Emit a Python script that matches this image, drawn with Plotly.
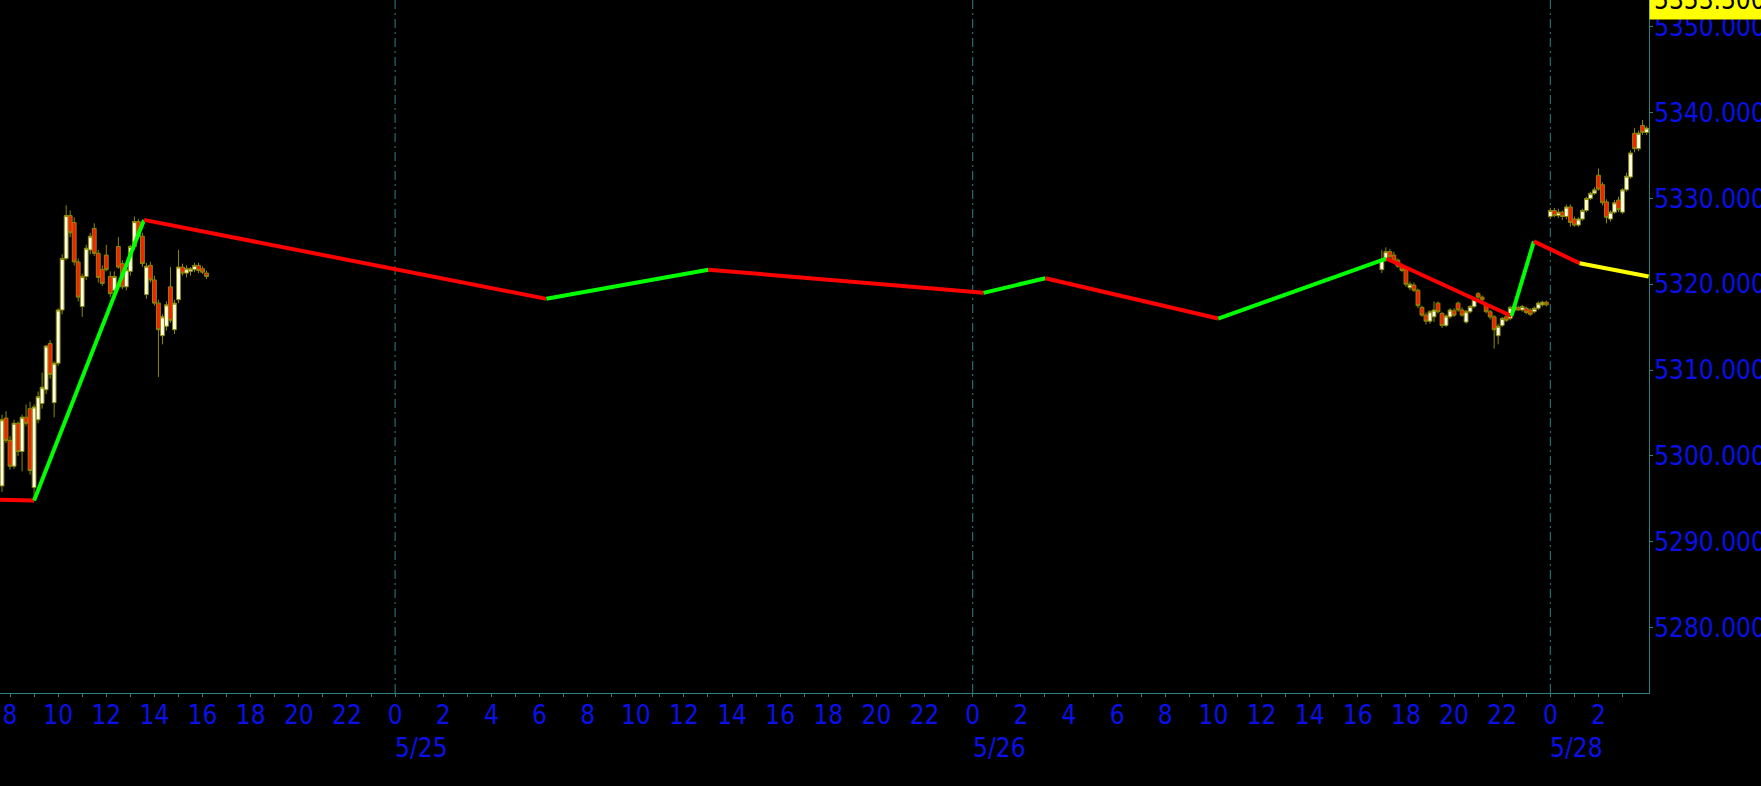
import pandas as pd
import plotly.graph_objects as go

# ---------------- data ----------------
# zigzag indicator vertices
zz_time = ["2024-05-24 07:00", "2024-05-24 09:00", "2024-05-24 13:34", "2024-05-25 06:17",
           "2024-05-25 13:01", "2024-05-26 00:27", "2024-05-26 03:01", "2024-05-26 10:12",
           "2024-05-26 17:11", "2024-05-26 22:23", "2024-05-26 23:19", "2024-05-28 01:13",
           "2024-05-28 04:05"]
zz_price = [5294.9, 5294.8, 5327.5, 5318.3, 5321.7, 5319.0, 5320.7, 5316.0,
            5323.0, 5316.3, 5325.0, 5322.45, 5320.9]

# candle cluster 1 (5/24, 10-minute bars from 07:40)
c1_start = "2024-05-24 07:40"
c1_open  = [5296.5, 5304.4, 5301.8, 5298.8, 5303.8, 5300.5, 5304.5, 5305.5, 5296.3, 5304.2,
            5306.1, 5307.7, 5313.1, 5306.2, 5310.8, 5317.0, 5323.0, 5328.0, 5327.2, 5322.6,
            5317.4, 5320.9, 5324.0, 5326.5, 5323.6, 5321.7, 5323.4, 5320.9, 5319.3, 5324.4,
            5322.4, 5319.7, 5321.5, 5324.4, 5327.3, 5325.6, 5318.8, 5322.2, 5320.5, 5317.8,
            5314.0, 5315.1, 5319.7, 5314.7, 5318.2, 5322.0, 5321.3, 5321.5, 5321.7, 5322.2,
            5321.8, 5321.3]
c1_high  = [5304.8, 5305.2, 5302.3, 5304.2, 5304.0, 5304.8, 5306.0, 5306.3, 5306.0, 5307.5,
            5309.7, 5312.9, 5313.5, 5311.0, 5317.2, 5323.5, 5329.2, 5328.6, 5327.8, 5323.0,
            5321.2, 5324.6, 5326.0, 5327.1, 5324.0, 5322.2, 5324.6, 5321.5, 5321.5, 5325.5,
            5322.8, 5322.0, 5324.6, 5327.9, 5327.6, 5326.0, 5322.5, 5322.6, 5321.0, 5318.2,
            5316.5, 5318.0, 5322.0, 5318.2, 5324.0, 5322.4, 5322.2, 5322.0, 5322.5, 5322.5,
            5322.1, 5321.6]
c1_low   = [5295.8, 5301.5, 5298.4, 5298.5, 5300.0, 5298.2, 5303.5, 5297.8, 5295.1, 5303.8,
            5305.5, 5307.2, 5309.0, 5304.5, 5310.5, 5316.5, 5322.8, 5325.5, 5322.2, 5318.0,
            5316.2, 5320.5, 5323.5, 5323.3, 5320.2, 5319.8, 5321.5, 5318.5, 5318.8, 5321.8,
            5319.4, 5319.3, 5321.0, 5324.0, 5325.3, 5322.0, 5318.3, 5320.2, 5317.5, 5309.2,
            5313.0, 5314.6, 5315.5, 5314.2, 5317.8, 5321.0, 5320.8, 5321.0, 5321.4, 5321.3,
            5321.2, 5320.6]
c1_close = [5304.2, 5301.8, 5298.8, 5303.8, 5300.5, 5304.5, 5303.8, 5298.3, 5305.7, 5306.9,
            5308.0, 5312.8, 5309.5, 5310.8, 5317.0, 5323.0, 5328.0, 5326.0, 5322.6, 5318.5,
            5320.9, 5324.2, 5325.6, 5323.6, 5320.8, 5320.1, 5321.7, 5318.9, 5320.9, 5322.0,
            5319.7, 5321.7, 5324.4, 5327.3, 5325.6, 5322.4, 5322.1, 5320.5, 5317.8, 5314.7,
            5316.2, 5317.6, 5315.8, 5317.8, 5322.0, 5321.3, 5321.8, 5321.8, 5322.2, 5321.6,
            5321.4, 5320.9]

# candle cluster 2 (5/26 evening, 10-minute bars from 17:00)
c2_start = "2024-05-26 17:00"
c2_open  = [5321.7, 5322.8, 5323.8, 5323.4, 5322.8, 5322.1, 5321.7, 5319.6, 5319.9, 5319.3,
            5317.3, 5316.4, 5315.7, 5316.2, 5317.8, 5316.6, 5315.2, 5316.2, 5316.9, 5317.8,
            5317.0, 5315.6, 5316.8, 5317.4, 5318.9, 5318.5, 5317.6, 5316.8, 5316.2, 5314.0,
            5315.2, 5316.2, 5316.0, 5317.0, 5317.3, 5317.0, 5317.2, 5317.0, 5316.8, 5317.2,
            5317.6, 5317.9]
c2_high  = [5324.0, 5324.3, 5324.1, 5323.8, 5323.0, 5322.4, 5322.0, 5320.3, 5320.2, 5319.5,
            5317.5, 5316.7, 5317.0, 5318.0, 5318.0, 5316.8, 5316.5, 5317.2, 5317.2, 5318.0,
            5317.3, 5317.0, 5317.6, 5318.4, 5319.1, 5318.7, 5317.9, 5317.0, 5316.4, 5315.4,
            5316.2, 5316.5, 5317.5, 5317.6, 5317.5, 5317.6, 5317.4, 5317.2, 5317.4, 5318.0,
            5318.1, 5318.1]
c2_low   = [5321.3, 5322.6, 5322.9, 5322.6, 5321.9, 5321.4, 5319.7, 5319.3, 5319.1, 5317.2,
            5316.2, 5315.3, 5315.4, 5315.6, 5316.6, 5314.9, 5315.0, 5316.0, 5316.2, 5316.8,
            5316.2, 5315.4, 5316.6, 5317.2, 5318.3, 5317.9, 5316.6, 5315.9, 5312.5, 5313.0,
            5315.0, 5315.6, 5315.8, 5316.8, 5316.9, 5316.8, 5316.5, 5316.3, 5316.6, 5317.0,
            5317.4, 5317.4]
c2_close = [5322.8, 5323.8, 5323.2, 5322.8, 5322.1, 5321.6, 5320.0, 5320.0, 5319.3, 5317.5,
            5316.4, 5315.7, 5316.8, 5317.0, 5316.8, 5315.2, 5316.3, 5317.0, 5316.4, 5317.0,
            5316.4, 5316.8, 5317.4, 5318.2, 5318.5, 5318.2, 5316.8, 5316.2, 5314.7, 5315.1,
            5316.0, 5315.8, 5317.3, 5317.4, 5317.0, 5317.4, 5316.7, 5316.5, 5317.2, 5317.8,
            5317.9, 5317.6]

# candle cluster 3 (5/28, 10-minute bars from 00:00)
c3_start = "2024-05-28 00:00"
c3_open  = [5327.9, 5328.6, 5328.0, 5328.4, 5327.9, 5329.0, 5327.6, 5326.9, 5327.6, 5328.6,
            5330.0, 5330.6, 5332.7, 5331.6, 5329.6, 5327.6, 5328.4, 5329.8, 5328.4, 5331.0,
            5332.5, 5337.6, 5335.8, 5338.5, 5337.7]
c3_high  = [5328.9, 5328.9, 5328.8, 5328.6, 5329.3, 5329.3, 5327.9, 5327.8, 5328.8, 5330.2,
            5330.8, 5331.3, 5333.5, 5331.9, 5329.9, 5328.6, 5329.8, 5330.2, 5331.2, 5333.0,
            5335.6, 5338.2, 5337.9, 5339.15, 5338.4]
c3_low   = [5327.6, 5327.8, 5327.7, 5327.5, 5327.6, 5326.7, 5326.7, 5326.7, 5327.4, 5328.4,
            5329.8, 5330.4, 5330.9, 5329.2, 5327.1, 5327.3, 5328.2, 5328.4, 5328.2, 5330.8,
            5332.3, 5335.4, 5335.5, 5337.4, 5337.4]
c3_close = [5328.6, 5328.0, 5328.4, 5327.9, 5329.0, 5327.2, 5326.9, 5327.6, 5328.6, 5330.0,
            5330.6, 5331.0, 5331.1, 5329.5, 5327.8, 5328.4, 5329.5, 5328.7, 5331.0, 5332.6,
            5335.3, 5335.8, 5337.6, 5337.7, 5338.2]

day_starts = ["2024-05-25", "2024-05-26", "2024-05-28"]
day_labels = ["5/25", "5/26", "5/28"]
skipped_day = ["2024-05-27", "2024-05-28"]
current_price_label = "5353.500"

x_range = ["2024-05-24 07:35", "2024-05-28 04:06"]
y_range = [5272.36, 5353.13]

# ---------------- styling ----------------
FONT = "Tahoma, 'DejaVu Sans Condensed', 'Liberation Sans', sans-serif"
BLUE = "#0a10e8"
TEAL = "#2f8080"
OLIVE = "#8a8a00"

fig = go.Figure()

# candles
for start, o, h, l, c in [(c1_start, c1_open, c1_high, c1_low, c1_close),
                          (c2_start, c2_open, c2_high, c2_low, c2_close),
                          (c3_start, c3_open, c3_high, c3_low, c3_close)]:
    t = pd.date_range(start, periods=len(o), freq="10min")
    fig.add_trace(go.Candlestick(
        x=t, open=o, high=h, low=l, close=c,
        increasing=dict(line=dict(color=OLIVE, width=1), fillcolor="#fffff0"),
        decreasing=dict(line=dict(color=OLIVE, width=1), fillcolor="#ff1a00"),
        whiskerwidth=0, showlegend=False, hoverinfo="skip"))

# zigzag segments
n = len(zz_price)
for i in range(n - 1):
    if i == n - 2:
        col = "#ffff00"
    elif zz_price[i + 1] > zz_price[i]:
        col = "#00ff00"
    else:
        col = "#ff0000"
    fig.add_trace(go.Scatter(x=[zz_time[i], zz_time[i + 1]],
                             y=[zz_price[i], zz_price[i + 1]],
                             mode="lines", line=dict(color=col, width=4),
                             showlegend=False, hoverinfo="skip"))

# day separators
for d in day_starts:
    fig.add_shape(type="line", xref="x", yref="paper", x0=d, x1=d, y0=0, y1=1,
                  line=dict(color=TEAL, width=1, dash="9px,4px,2px,4px"), layer="below")

for d, lab in zip(day_starts, day_labels):
    fig.add_annotation(x=d, xref="x", y=-0.079, yref="paper", text=lab, showarrow=False,
                       xanchor="left", yanchor="middle", xshift=-2,
                       font=dict(family=FONT, size=26, color=BLUE))

fig.add_annotation(x=1, xref="paper", y=1.0, yref="paper", text=current_price_label,
                   showarrow=False, xanchor="left", yanchor="middle", align="left",
                   bgcolor="#ffff00", font=dict(family=FONT, size=26, color="#000000"),
                   borderpad=4, width=140)

# hourly ticks, labels every 2 hours
hours = pd.date_range("2024-05-24 08:00", "2024-05-28 03:00", freq="1h")
hours = [h for h in hours if h.day != 27]
tickvals = hours
ticktext = [str(h.hour) if h.hour % 2 == 0 else "" for h in hours]

fig.update_layout(
    width=1761, height=786,
    paper_bgcolor="#000000", plot_bgcolor="#000000",
    margin=dict(l=0, r=112, t=0, b=93),
    font=dict(family=FONT, size=26, color=BLUE),
    boxgap=0.05, boxgroupgap=0,
    xaxis=dict(type="date", range=x_range, rangeslider=dict(visible=False),
               rangebreaks=[dict(bounds=skipped_day)], automargin=False,
               tickvals=tickvals, ticktext=ticktext,
               ticks="outside", ticklen=3, tickcolor=TEAL, tickwidth=1,
               ticklabelstandoff=-4,
               showline=True, linecolor=TEAL, linewidth=1,
               showgrid=False, zeroline=False,
               tickfont=dict(family=FONT, size=26, color=BLUE)),
    yaxis=dict(side="right", range=y_range, dtick=10, tick0=5280, automargin=False,
               tickformat=".3f", ticks="outside", ticklen=3, tickcolor=TEAL,
               ticklabelstandoff=-4,
               showline=True, linecolor=TEAL, linewidth=1,
               showgrid=False, zeroline=False,
               tickfont=dict(family=FONT, size=26, color=BLUE)),
)

fig.write_html("out.html",
               config={"displayModeBar": False},
               post_script="document.body.style.margin='0';"
                           "document.body.style.background='#000000';"
                           "document.documentElement.style.background='#000000';")
